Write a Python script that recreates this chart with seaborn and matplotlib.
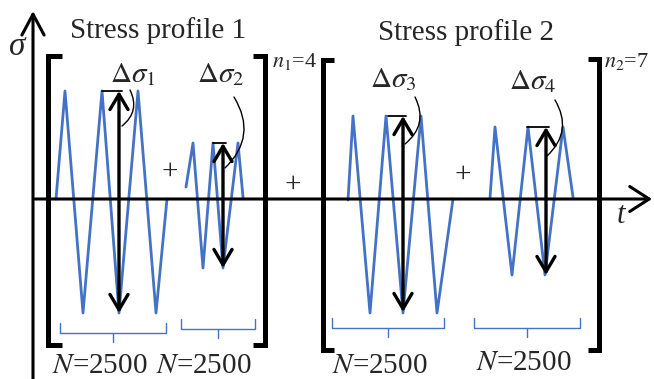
import matplotlib
matplotlib.use('Agg')
import matplotlib.pyplot as plt
import seaborn as sns
import pandas as pd

sns.set_theme(style='white')
plt.rcParams['font.family'] = ['Liberation Serif', 'DejaVu Serif']
plt.rcParams['mathtext.fontset'] = 'stix'

# ---------------- data (t in px-like units, sigma relative to the t axis) ----
blk1_t = [56, 65, 83, 102, 119, 138, 156, 167]
blk1_s = [0, 108, -114, 108, -114, 108, -114, 0]
blk2_t = [186, 193, 203, 213, 223, 238, 243]
blk2_s = [12, 56, -69, 56, -69, 56, 2]
blk3_t = [348, 353, 370, 386, 403, 421, 437, 453]
blk3_s = [-1, 83, -114, 83, -114, 83, -114, 0]
blk4_t = [490, 495, 512, 528, 545, 563, 573]
blk4_s = [1, 72, -76, 72, -76, 72, 2]

range_labels = [r'$\Delta\sigma_1$', r'$\Delta\sigma_2$', r'$\Delta\sigma_3$', r'$\Delta\sigma_4$']
range_t = [119, 223, 403, 546]
range_top = [108, 56, 83, 72]
range_bot = [-114, -69, -113, -76]
prev_peak_t = [102, 213, 388, 527]

cycle_labels = ['$N$=2500', '$N$=2500', '$N$=2500', '$N$=2500']
profile_titles = ['Stress profile 1', 'Stress profile 2']
repeat_labels = ['$n_1$=4', '$n_2$=7']

BLUE = '#4472C4'
AX_Y = 199  # pixel row of the t axis


def Y(py):
    return AX_Y - py


fig = plt.figure(figsize=(6.54, 3.79), dpi=100)
ax = fig.add_axes([0, 0, 1, 1])
ax.set_xlim(0, 654)
ax.set_ylim(Y(379), Y(0))
ax.axis('off')

# waveforms
frames = []
for i, (t, s) in enumerate([(blk1_t, blk1_s), (blk2_t, blk2_s), (blk3_t, blk3_s), (blk4_t, blk4_s)]):
    frames.append(pd.DataFrame({'t': t, 'sigma': s, 'block': i}))
wave_df = pd.concat(frames, ignore_index=True)
sns.lineplot(data=wave_df, x='t', y='sigma', units='block', estimator=None, sort=False,
             color=BLUE, lw=2.0, ax=ax, legend=False, zorder=2)
ax.set_xlabel('')
ax.set_ylabel('')

# coordinate axes
ax.annotate('', xy=(652, 0), xytext=(35, 0),
            arrowprops=dict(arrowstyle='->,head_length=14,head_width=9', mutation_scale=1,
                            lw=2.2, color='black', shrinkA=0, shrinkB=0), zorder=3)
ax.annotate('', xy=(33, Y(11)), xytext=(33, Y(379)),
            arrowprops=dict(arrowstyle='->,head_length=15,head_width=8', mutation_scale=1,
                            lw=2.2, color='black', shrinkA=0, shrinkB=0), zorder=3)
ax.text(17, Y(55), 'σ', fontsize=24, style='italic', ha='center', va='baseline')
ax.text(621, Y(223), 't', fontsize=22, style='italic', ha='center', va='baseline')

# stress range arrows
for t, top, bot, pk in zip(range_t, range_top, range_bot, prev_peak_t):
    ax.annotate('', xy=(t, top), xytext=(t, bot),
                arrowprops=dict(arrowstyle='<->,head_length=11,head_width=6.5', mutation_scale=1,
                                lw=2.4, color='black', shrinkA=0, shrinkB=0), zorder=4)
    ax.plot([pk, t + 3], [top, top], color='black', lw=1.3, zorder=4)

label_pos = [(133, 82), (221, 82), (393, 87), (533, 89)]
curve_from = [(130, 90), (234, 97), (415, 97), (555, 100)]
curve_to = [(122, 126), (225, 168), (405, 144), (547, 156)]
for lab, (lx, ly), (x0, y0), (x1, y1) in zip(range_labels, label_pos, curve_from, curve_to):
    ax.text(lx, Y(ly), lab, fontsize=21, ha='center', va='baseline')
    ax.annotate('', xy=(x1, Y(y1)), xytext=(x0, Y(y0)),
                arrowprops=dict(arrowstyle='-', connectionstyle='arc3,rad=-0.4',
                                lw=1.0, color='black', shrinkA=0, shrinkB=0), zorder=4)

# brackets
def bracket(x, top, bot, serif):
    ax.plot([x + serif, x, x, x + serif], [Y(top), Y(top), Y(bot), Y(bot)],
            color='black', lw=3.6, solid_joinstyle='miter', solid_capstyle='butt', zorder=3)

bracket(48, 55.5, 345, 14)
bracket(265, 55.5, 345, -12)
bracket(322.5, 59.5, 350, 11)
bracket(599, 59, 350, -11)

ax.text(158, Y(38), profile_titles[0], fontsize=21, ha='center', va='baseline')
ax.text(466, Y(40), profile_titles[1], fontsize=21, ha='center', va='baseline')
ax.text(272, Y(67), repeat_labels[0], fontsize=16, ha='left', va='baseline')
ax.text(604, Y(67), repeat_labels[1], fontsize=16, ha='left', va='baseline')

# plus signs
for px, py in [(170, 179), (293, 192), (463, 182)]:
    ax.text(px, Y(py), '+', fontsize=21, ha='center', va='baseline')

# braces for cycle counts
brace_left = [60, 181, 332, 474]
brace_right = [166, 255, 444, 580]
brace_h = [333, 329, 328, 328]
brace_mid = [113, 218, 388, 527]
for L, R, h, m in zip(brace_left, brace_right, brace_h, brace_mid):
    ax.plot([L, L, R, R], [Y(h - 10), Y(h), Y(h), Y(h - 10)], color=BLUE, lw=1.0, zorder=2)
    ax.plot([m, m], [Y(h), Y(h + 9)], color=BLUE, lw=1.0, zorder=2)

cyc_pos = [(100, 373), (204, 373), (380, 373), (524, 370)]
for lab, (cx, cy) in zip(cycle_labels, cyc_pos):
    ax.text(cx, Y(cy), lab, fontsize=21, ha='center', va='baseline')

fig.savefig('out.png', dpi=100)
